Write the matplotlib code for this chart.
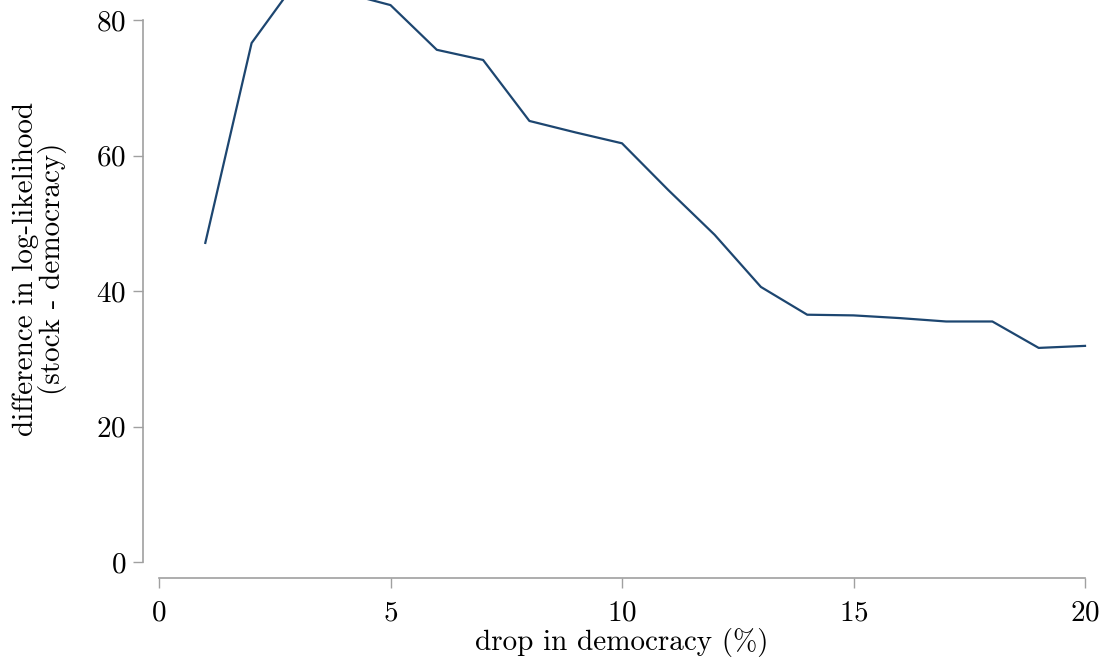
import matplotlib
matplotlib.use("Agg")
import matplotlib.pyplot as plt

# datos
drop_pct = [1, 2, 3, 4, 5, 6, 7, 8, 9, 10, 11, 12, 13, 14, 15, 16, 17, 18, 19, 20]
ll_diff = [47.1, 76.6, 86.0, 84.0, 82.2, 75.6, 74.1, 65.1, 63.4, 61.8,
           54.9, 48.3, 40.6, 36.5, 36.4, 36.0, 35.5, 35.5, 31.6, 31.9]
x_ticks = [0, 5, 10, 15, 20]
y_ticks = [0, 20, 40, 60, 80]

plt.rcParams['font.family'] = 'cmr10'
plt.rcParams['mathtext.fontset'] = 'cm'
plt.rcParams['axes.unicode_minus'] = False
plt.rcParams['axes.formatter.use_mathtext'] = True

fig = plt.figure(figsize=(11.06, 6.62), dpi=100)
ax = fig.add_axes([159/1106, 100/662, 926/1106, 542/662])

ax.plot(drop_pct, ll_diff, color='#1d4670', linewidth=1.6, clip_on=False)

ax.set_xlim(0, 20)
ax.set_ylim(0, 80)
ax.set_xticks(x_ticks)
ax.set_yticks(y_ticks)

for side in ['top', 'right']:
    ax.spines[side].set_visible(False)
for side in ['left', 'bottom']:
    ax.spines[side].set_position(('outward', 11.5))
    ax.spines[side].set_color('#a0a0a0')
    ax.spines[side].set_linewidth(1.2)

ax.tick_params(axis='both', colors='#a0a0a0', labelcolor='black',
               labelsize=21, length=7, width=1.0)
ax.tick_params(axis='x', pad=9)
ax.tick_params(axis='y', pad=5)

ax.set_xlabel('drop in democracy (%)', fontsize=21, labelpad=1)
ax.set_ylabel('difference in log-likelihood\n(stock - democracy)', fontsize=21,
              linespacing=0.95)
ax.yaxis.set_label_coords(-0.0994, 0.5415)

fig.savefig('out.png', dpi=100)
